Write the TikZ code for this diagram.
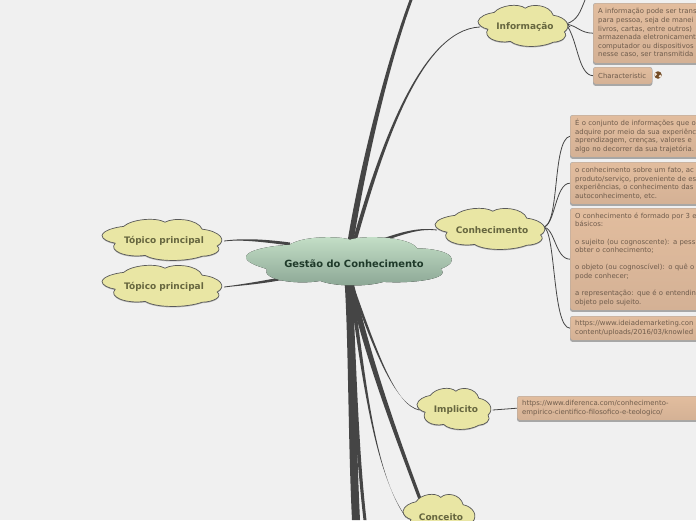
\documentclass[tikz,border=0pt]{standalone}
\usepackage{fontspec}
\setmainfont{DejaVu Sans}
\usepackage{tikz}
\usetikzlibrary{positioning, calc, backgrounds}
\definecolor{pagegray}{HTML}{F0F0F0}
\definecolor{linkgray}{HTML}{454545}
\definecolor{cloudfill}{HTML}{E9E6A4}
\definecolor{cloudtext}{HTML}{66663F}
\definecolor{boxtop}{HTML}{E2BD9E}
\definecolor{boxbot}{HTML}{D4B195}
\definecolor{boxtext}{HTML}{6F5C4C}
\definecolor{rootlight}{HTML}{C6E1C9}
\definecolor{rootdark}{HTML}{8AA593}
\definecolor{roottext}{HTML}{1F3A2A}
% tapered branch: start, control, control, end, half width at start, half width at end
\newcommand{\taperlink}[6]{%
  \fill[linkgray] ($(#1)+(#5)$) .. controls ($(#2)+(#5)$) and ($(#3)+(#6)$) .. ($(#4)+(#6)$)
    -- ($(#4)-(#6)$) .. controls ($(#3)-(#6)$) and ($(#2)-(#5)$) .. ($(#1)-(#5)$) -- cycle;}
% cloud outline, unit size
\newcommand{\puffpath}{(-1,-.18) .. controls (-.98,-.42) and (-.8,-.58) .. (-.64,-.63)
  .. controls (-.5,-1.0) and (-.1,-1.1) .. (.05,-.84)
  .. controls (.2,-1.1) and (.6,-1.0) .. (.67,-.49)
  .. controls (.95,-.4) and (1.1,.05) .. (.92,.35)
  .. controls (1.02,.6) and (.85,.85) .. (.67,.86)
  .. controls (.4,1.15) and (-.1,1.15) .. (-.28,.82)
  .. controls (-.6,.95) and (-.9,.6) .. (-.78,.21)
  .. controls (-.9,.15) and (-1,.0) .. (-1,-.18) -- cycle}
% cloud behind a named node: node, half width, half height
\newcommand{\puffcloud}[3]{%
  \fill[black, opacity=0.25, shift={(#1)}, shift={(-2,-1)}, xscale=#2, yscale=#3] \puffpath;
  \draw[black!65, fill=cloudfill, line width=0.7pt, shift={(#1)}, shift={(-2,-2)}, xscale=#2, yscale=#3] \puffpath;}
\begin{document}
\begin{tikzpicture}[x=1pt, y=-1pt,
  topiccloud/.style={text=cloudtext, inner sep=0pt, font=\fontsize{9}{11}\selectfont\bfseries},
  rootcloud/.style={text=roottext, inner sep=0pt, font=\fontsize{9.9}{12}\selectfont\bfseries},
  notebox/.style={draw=black!35, top color=boxtop, bottom color=boxbot, text=boxtext, rounded corners=2.5pt, anchor=north west, align=left,
    inner xsep=5pt, inner ysep=0pt, font=\fontsize{6.9}{8.6}\selectfont},
  boxshade/.style={fill=black, opacity=0.3, rounded corners=2.5pt},
  twig/.style={draw=linkgray, line width=0.8pt}]
\clip (0,0) rectangle (696,520);
\useasboundingbox (0,0) rectangle (696,520);
% main topics
\node[rootcloud, minimum width=207pt, minimum height=48pt] (root) at (349,261) {};
\node[rootcloud] (rootlabel) at (354,264) {Gestão do Conhecimento};
\node[topiccloud, minimum width=90pt, minimum height=39pt] (info) at (525,27) {Informação};
\node[topiccloud, minimum width=110pt, minimum height=39pt] (know) at (492,230) {Conhecimento};
\node[topiccloud, minimum width=120pt, minimum height=39pt] (left1) at (164,241) {Tópico principal};
\node[topiccloud, minimum width=120pt, minimum height=39pt] (left2) at (164,287) {Tópico principal};
\node[topiccloud, minimum width=73pt, minimum height=39pt] (implicit) at (456,410) {Implicito};
\node[topiccloud, minimum width=70pt, minimum height=44pt] (concept) at (441,517) {Conceito};
% notes of Informação
\node[notebox, text width=210pt, minimum height=60pt] (infoa) at (593,3) {A informação pode ser trans\\para pessoa, seja de manei\\livros, cartas, entre outros)\\armazenada eletronicament\\computador ou dispositivos\\nesse caso, ser transmitida};
\node[notebox, text width=49pt, minimum height=17pt] (infob) at (593,67) {Characteristic};
\node[circle, fill=brown!60!black, minimum size=7.5pt, inner sep=0pt, path picture={\fill[white!80!brown] (path picture bounding box.north west) ++(1,3) circle (1.8pt) (path picture bounding box.south east) ++(-1.5,-2.5) circle (1.6pt);}] (globe) at (658,75) {};
% notes of Conhecimento
\node[notebox, text width=210pt, minimum height=42pt] (knowa) at (570,115) {É o conjunto de informações que o\\adquire por meio da sua experiênc\\aprendizagem, crenças, valores e\\algo no decorrer da sua trajetória.};
\node[notebox, text width=210pt, minimum height=42pt] (knowb) at (570,162) {o conhecimento sobre um fato, ac\\produto/serviço, proveniente de es\\experiências, o conhecimento das\\autoconhecimento, etc.};
\node[notebox, text width=210pt, minimum height=102pt] (knowc) at (570,208) {O conhecimento é formado por 3 e\\básicos:\\[8.6pt]o sujeito (ou cognoscente): a pess\\obter o conhecimento;\\[8.6pt]o objeto (ou cognoscível): o quê o\\pode conhecer;\\[8.6pt]a representação: que é o entendin\\objeto pelo sujeito.};
\node[notebox, text width=210pt, minimum height=24pt] (knowd) at (570,316) {https://www.ideiademarketing.con\\content/uploads/2016/03/knowled};
\node[notebox, text width=190pt, minimum height=24pt] (implicita) at (517,396) {https://www.diferenca.com/conhecimento-\\empirico-cientifico-filosofico-e-teologico/};
% free ends
\coordinate (topa) at (411,0);
\coordinate (topb) at (585,0);
\coordinate (bota) at (356,520);
\coordinate (botb) at (365,520);
\coordinate (infofan) at (566,24);
\coordinate (knowfan) at (543,227);
\coordinate (conceptin) at (420,499);
\begin{pgfonlayer}{background}
\fill[pagegray] (0,0) rectangle (696,520);
% branches from the root
\taperlink{350,245}{360,180}{385,70}{topa}{3,0}{1.5,0}
\taperlink{352,250}{380,150}{420,30}{info.west}{2,0}{0,0.4}
\taperlink{380,241}{405,232}{420,228}{know.west}{0,1.5}{0,0.4}
\taperlink{290,244}{260,240}{240,239}{left1.east}{0,1.5}{0,0.4}
\taperlink{290,277}{260,283}{240,285}{left2.east}{0,1.5}{0,0.4}
\taperlink{348,280}{352,340}{352,440}{bota}{3.5,0}{4,0}
\taperlink{350,280}{354,380}{358,460}{botb}{2.5,0}{1.5,0}
\taperlink{350,280}{362,360}{372,470}{concept.west}{2,0}{0,0.4}
\taperlink{350,280}{368,360}{398,440}{conceptin}{3,0}{1.7,0}
\taperlink{350,280}{375,350}{395,405}{implicit.west}{1.5,0}{0,0.4}
% twigs
\draw[twig] (info.east) -- (infofan);
\draw[twig] (infofan) .. controls (578,20) and (580,12) .. (topb);
\draw[twig] (infofan) .. controls (578,26) and (580,33) .. (infoa.west);
\draw[twig] (infofan) .. controls (578,40) and (578,75) .. (infob.west);
\draw[twig] (knowfan) .. controls (560,227) and (552,140) .. (knowa.west);
\draw[twig] (knowfan) .. controls (555,227) and (555,183) .. (knowb.west);
\draw[twig] (knowfan) .. controls (555,227) and (555,259) .. (knowc.west);
\draw[twig] (knowfan) .. controls (556,227) and (552,328) .. (knowd.west);
\draw[twig] (implicit.east) -- (implicita.west);
% box shadows
\foreach \boxname in {infoa,infob,knowa,knowb,knowc,knowd,implicita}
  \fill[boxshade] ([shift={(0,1.5)}]\boxname.north west) rectangle ([shift={(0,1.5)}]\boxname.south east);
% clouds
\fill[top color=rootlight, bottom color=rootdark, shift={(root)}, xscale=103, yscale=24] (-1,-.17) .. controls (-1,-.45) and (-.75,-.65) .. (-.58,-.67)
  .. controls (-.45,-1.05) and (-.1,-1.05) .. (.01,-.89)
  .. controls (.15,-1.1) and (.6,-1.0) .. (.66,-.53)
  .. controls (1,-.5) and (1.1,.0) .. (.89,.33)
  .. controls (1,.75) and (.6,.95) .. (.335,.87)
  .. controls (.15,1.1) and (-.15,1.05) .. (-.28,.83)
  .. controls (-.5,1.0) and (-.85,.8) .. (-.8,.33)
  .. controls (-.9,.2) and (-1,.05) .. (-1,-.17) -- cycle;
\puffcloud{info}{45}{20}
\puffcloud{know}{55}{20}
\puffcloud{left1}{60}{20}
\puffcloud{left2}{60}{20}
\puffcloud{implicit}{37}{20}
\puffcloud{concept}{36}{21}
\end{pgfonlayer}
\end{tikzpicture}
\end{document}
